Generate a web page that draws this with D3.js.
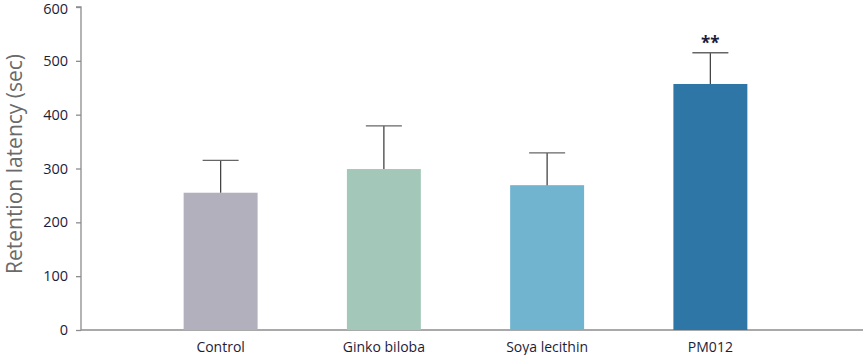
<!DOCTYPE html>
<html>
<head>
<meta charset="utf-8">
<script src="https://cdn.jsdelivr.net/npm/d3@7"></script>
<style>
  body { margin: 0; background: #fff; }
  svg { display: block; }
</style>
</head>
<body>
<div id="chart"></div>
<script>
// data
const groups = ["Control", "Ginko biloba", "Soya lecithin", "PM012"];
const means = [255, 299, 269, 457];
const errors = [60, 80, 60, 58];
const marks = ["", "", "", "**"];
const barColors = ["#b1b0bc", "#a3c8ba", "#70b4cf", "#2e76a5"];
const yTicks = [0, 100, 200, 300, 400, 500, 600];

const width = 863, height = 355;
const axisX = 81, axisY = 330, topY = 7;

const svg = d3.select("#chart")
  .append("svg")
  .attr("width", width)
  .attr("height", height)
  .style("font-family", "'Open Sans', sans-serif");

// scales
const yScale = d3.scaleLinear()
  .domain([0, 600])
  .range([axisY, topY]);

const xScale = d3.scaleBand()
  .domain(groups)
  .range([139, 792])
  .paddingInner(0.547)
  .paddingOuter(0.2735);

// y axis
const yAxis = d3.axisLeft(yScale)
  .tickValues(yTicks)
  .tickSize(5)
  .tickPadding(8);

const yG = svg.append("g")
  .attr("transform", `translate(${axisX},0)`)
  .call(yAxis);
yG.selectAll("path, line").attr("stroke", "#8c8c8c").attr("stroke-width", 1.3);
yG.select(".domain").attr("d", `M-5,${topY}H0V${axisY}`);
yG.selectAll("text")
  .attr("font-size", 14.5)
  .attr("font-family", "'Open Sans', sans-serif")
  .attr("fill", "#1c1c3a");
// keep the top label inside the frame
yG.selectAll(".tick text").filter(d => d === 600).attr("dy", "0.45em");

// x axis line (no ticks)
svg.append("line")
  .attr("x1", axisX).attr("x2", width)
  .attr("y1", axisY).attr("y2", axisY)
  .attr("stroke", "#8c8c8c")
  .attr("stroke-width", 1.5);

// bars
svg.selectAll("rect.bar")
  .data(groups)
  .join("rect")
    .attr("class", "bar")
    .attr("x", d => xScale(d))
    .attr("y", (d, i) => yScale(means[i]))
    .attr("width", xScale.bandwidth())
    .attr("height", (d, i) => axisY - yScale(means[i]))
    .attr("fill", (d, i) => barColors[i]);

// error bars (upper only)
const capHalf = 18;
groups.forEach((g, i) => {
  const cx = xScale(g) + xScale.bandwidth() / 2;
  svg.append("line")
    .attr("x1", cx).attr("x2", cx)
    .attr("y1", yScale(means[i]))
    .attr("y2", yScale(means[i] + errors[i]))
    .attr("stroke", "#444")
    .attr("stroke-width", 1.3);
  svg.append("line")
    .attr("x1", cx - capHalf).attr("x2", cx + capHalf)
    .attr("y1", yScale(means[i] + errors[i]))
    .attr("y2", yScale(means[i] + errors[i]))
    .attr("stroke", "#666")
    .attr("stroke-width", 1.3);
  if (marks[i]) {
    svg.append("text")
      .text(marks[i])
      .attr("x", cx)
      .attr("y", yScale(means[i] + errors[i]) - 4)
      .attr("text-anchor", "middle")
      .attr("font-size", 17)
      .attr("font-weight", "bold")
      .attr("fill", "#1c1c3a");
  }
});

// category labels
svg.selectAll("text.cat")
  .data(groups)
  .join("text")
    .attr("class", "cat")
    .attr("x", d => xScale(d) + xScale.bandwidth() / 2)
    .attr("y", 352)
    .attr("text-anchor", "middle")
    .attr("font-size", 14)
    .attr("fill", "#1c1c3a")
    .text(d => d);

// y axis title
svg.append("text")
  .text("Retention latency (sec)")
  .attr("transform", "translate(22,164) rotate(-90)")
  .attr("text-anchor", "middle")
  .attr("font-size", 21)
  .attr("fill", "#6a6a6a");
</script>
</body>
</html>
